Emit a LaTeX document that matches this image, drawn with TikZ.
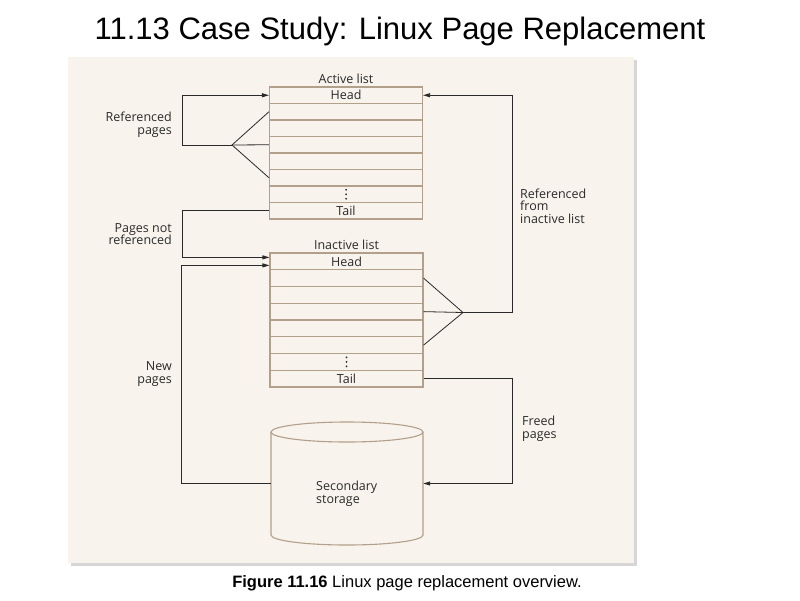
\documentclass[tikz,border=0pt]{standalone}
\usepackage{fontspec}
\setmainfont{Liberation Sans}
\newfontfamily\lblfont{Open Sans}
\usetikzlibrary{arrows.meta}
\definecolor{panel}{HTML}{F8F3ED}
\definecolor{rowline}{HTML}{B3A08A}
\definecolor{shadowc}{HTML}{D6D6D6}
\definecolor{ink}{HTML}{2A2A2A}
\tikzset{
  rowbox/.style={draw=rowline, line width=1.1pt, minimum width=153pt, inner sep=0pt,
    font=\lblfont\fontsize{12.5}{13}\selectfont, text=ink},
  lbl/.style={font=\lblfont\fontsize{12.5}{12.6}\selectfont, text=ink, inner sep=0pt},
  conn/.style={draw=ink, line width=0.8pt},
  arr/.style={conn, -{Triangle[length=7pt,width=4pt]}},
  cyl/.style={draw=rowline, line width=1.1pt},
  dotc/.style={fill=ink}
}
\begin{document}
\begin{tikzpicture}[x=1pt,y=-1pt]
\useasboundingbox (0,0) rectangle (800,600);
% panel
\fill[shadowc] (71,60) rectangle (637,566);
\fill[panel] (68,57) rectangle (634,563);
% title and caption
\node[anchor=base, font=\fontsize{31}{36}\selectfont] (title) at (400,39) {11.13 Case Study: Linux Page Replacement};
\node[anchor=base, font=\fontsize{16.5}{19}\selectfont] (caption) at (407,587) {\textbf{Figure 11.16} Linux page replacement overview.};
% active list
\node[lbl] (actlbl) at (346,79) {Active list};
\foreach \k/\t in {1/Head,2/,3/,4/,5/,6/,7/,8/Tail}{
  \node[rowbox, minimum height=16.5pt] (a\k) at (346,{87+8.25+16.5*(\k-1)}) {\t};
}
% inactive list
\node[lbl] (inlbl) at (346.5,245) {Inactive list};
\foreach \k/\t in {1/Head,2/,3/,4/,5/,6/,7/,8/Tail}{
  \node[rowbox, minimum height=16.75pt] (i\k) at (346.5,{253+8.375+16.75*(\k-1)}) {\t};
}
% vertical dots
\foreach \s in {-4.5,0,4.5}{
  \fill[dotc] ([yshift=\s pt]a7.center) circle (1pt);
  \fill[dotc] ([yshift=\s pt]i7.center) circle (1pt);
}
% secondary storage (cylinder)
\node[minimum width=152pt, minimum height=103pt, inner sep=0pt] (storage) at (347,483.5) {};
\draw[cyl, fill=panel] (347,432) ellipse [x radius=76, y radius=10];
\draw[cyl] (271,432) -- (271,535) arc [start angle=180, end angle=0, x radius=76, y radius=10] -- (423,432);
\node[lbl, align=left, anchor=west] (seclbl) at (316,494) {Secondary\\storage};
% labels
\node[lbl, align=right, anchor=east] (lref) at (172,125) {Referenced\\pages};
\node[lbl, align=right, anchor=east] (lnot) at (172,234) {Pages not\\referenced};
\node[lbl, align=right, anchor=east] (lnew) at (172,374) {New\\pages};
\node[lbl, align=left, anchor=west] (lfrom) at (520,206) {Referenced\\from\\inactive list};
\node[lbl, align=left, anchor=west] (lfreed) at (522,429) {Freed\\pages};
% fork points
\coordinate (f1) at (232,145);
\coordinate (f2) at (463,312.5);
% referenced pages (active list)
\draw[conn] (a2.west) -- (f1) -- (a6.west);
\draw[conn] (a4.west) -- (f1);
\draw[arr] (f1) -- ++(-50,0) |- (a1.west);
% pages not referenced
\draw[arr] (a8.west) -- ++(-87,0) |- ([yshift=4pt]i1.west);
% new pages
\draw[arr] (storage.west) -- ++(-89,0) |- ([yshift=-4pt]i1.west);
% referenced from inactive list
\draw[conn] (i2.east) -- (f2) -- (i6.east);
\draw[conn] (i4.east) -- (f2);
\draw[arr] (f2) -- ++(49,0) |- (a1.east);
% freed pages
\draw[arr] (i8.east) -- ++(89,0) |- (storage.east);
\end{tikzpicture}
\end{document}
